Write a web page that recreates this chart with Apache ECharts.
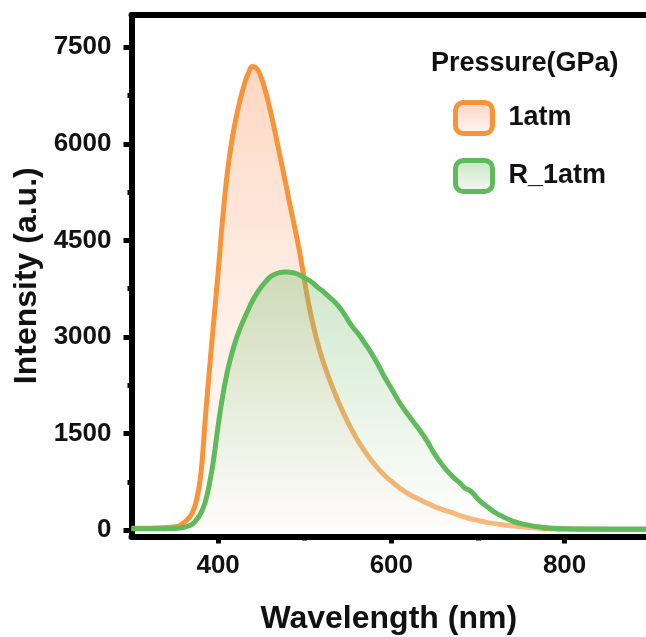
<!DOCTYPE html>
<html><head><meta charset="utf-8">
<script src="https://cdn.jsdelivr.net/npm/echarts@6/dist/echarts.min.js"></script>
<style>html,body{margin:0;padding:0;background:#fff}#c{width:646px;height:637px}</style>
</head><body><div id="c"></div>
<script>
// Wavelength (nm)
const wavelength = [300,320,340,350,355,360,365,370,375,380,385,390,395,400,405,410,415,420,425,430,435,440,445,450,455,460,465,470,475,480,485,490,495,500,505,510,515,520,525,530,535,540,545,550,555,560,565,570,575,580,585,590,595,600,610,620,630,640,650,660,670,680,685,690,695,700,710,720,730,740,750,760,770,780,800,850,894];
// Intensity, 1atm
const atm1 = [30,30,38,50,65,110,170,260,460,860,1700,2500,3250,4000,4800,5480,5980,6350,6660,6910,7100,7200,7160,7020,6800,6530,6230,5900,5580,5250,4920,4600,4250,3850,3480,3170,2900,2670,2470,2290,2120,1960,1810,1670,1540,1420,1310,1210,1115,1030,950,880,815,760,650,560,490,425,365,315,270,220,200,180,165,150,120,100,80,65,50,40,32,25,15,10,8];
// Intensity, R_1atm
const r1atm = [20,20,22,25,30,40,60,90,160,260,430,720,1120,1620,2060,2420,2700,2930,3120,3280,3430,3570,3680,3780,3860,3930,3970,3995,4005,4010,4000,3985,3955,3915,3880,3830,3770,3720,3660,3600,3540,3460,3370,3260,3160,3080,2990,2890,2790,2680,2560,2430,2310,2200,1970,1780,1600,1410,1180,990,840,720,650,620,560,480,370,270,200,140,100,72,50,35,20,15,15];
const seriesNames = ['1atm','R_1atm'];
const legendTitle = 'Pressure(GPa)';
const yTicks = [0,1500,3000,4500,6000,7500];
const yMinorTicks = [750,2250,3750,5250,6750];
const xTicks = [400,600,800];
const xMinorTicks = [500,700];

const FONT = '"Liberation Sans", Arial, sans-serif';
const ORANGE = '#f7943a';
const GREEN = '#5fba5b';
const G = echarts.graphic.LinearGradient;

const chart = echarts.init(document.getElementById('c'), null, {renderer:'canvas'});
const toPairs = vals => wavelength.map((w,i)=>[w, vals[i]]);
const Y_MIN = -100, Y_MAX = 8000, X_MIN = 300, X_MAX = 894;
const plain = v => String(v);

chart.setOption({
  animation: false,
  backgroundColor: '#fff',
  title: {
    text: legendTitle, left: 431, top: 50, padding: 0,
    textStyle: {fontFamily: FONT, fontWeight: 'bold', fontSize: 27, color: '#111'}
  },
  legend: {
    orient: 'vertical', left: 453, top: 100, padding: 0,
    itemWidth: 37, itemHeight: 31, itemGap: 22, icon: 'roundRect',
    textStyle: {fontFamily: FONT, fontWeight: 'bold', fontSize: 27, color: '#111', padding: [0,0,0,11]},
    data: [
      {name: seriesNames[0], itemStyle: {color: new G(0,0,0,1,[{offset:0,color:'#fbd3c2'},{offset:1,color:'#fff8f5'}]), borderColor: ORANGE, borderWidth: 5}},
      {name: seriesNames[1], itemStyle: {color: new G(0,0,0,1,[{offset:0,color:'#c9e4c4'},{offset:1,color:'#f6fbf5'}]), borderColor: GREEN, borderWidth: 5}}
    ]
  },
  grid: {left: 131.5, right: 0, top: 15, bottom: 100.5, outerBoundsMode: 'none', containLabel: false},
  xAxis: [
    {
      type: 'value', position: 'bottom', min: X_MIN, max: X_MAX,
      name: 'Wavelength (nm)', nameLocation: 'middle', nameGap: 67,
      nameTextStyle: {fontFamily: FONT, fontWeight: 'bold', fontSize: 32, color: '#111'},
      axisLine: {show: true, onZero: false, lineStyle: {color: '#000', width: 6}},
      axisTick: {show: true, customValues: xTicks, length: 7, lineStyle: {color: '#000', width: 5}},
      axisLabel: {customValues: xTicks, formatter: plain, margin: 16, fontFamily: FONT, fontWeight: 'bold', fontSize: 26, color: '#111'},
      splitLine: {show: false}
    },
    {
      type: 'value', position: 'bottom', min: X_MIN, max: X_MAX,
      axisLine: {show: false, onZero: false},
      axisTick: {show: true, customValues: xMinorTicks, length: 4, lineStyle: {color: '#000', width: 5}},
      axisLabel: {show: false}, splitLine: {show: false}
    },
    {
      type: 'value', position: 'top', min: X_MIN, max: X_MAX,
      axisLine: {show: true, onZero: false, lineStyle: {color: '#000', width: 6}},
      axisTick: {show: false}, axisLabel: {show: false}, splitLine: {show: false}
    }
  ],
  yAxis: [
    {
      type: 'value', position: 'left', min: Y_MIN, max: Y_MAX,
      name: 'Intensity (a.u.)', nameLocation: 'middle', nameGap: 83,
      nameTextStyle: {fontFamily: FONT, fontWeight: 'bold', fontSize: 32, color: '#111'},
      axisLine: {show: true, onZero: false, lineStyle: {color: '#000', width: 6}},
      axisTick: {show: true, customValues: yTicks, length: 8, lineStyle: {color: '#000', width: 5}},
      axisLabel: {customValues: yTicks, formatter: plain, margin: 20, fontFamily: FONT, fontWeight: 'bold', fontSize: 26, color: '#111'},
      splitLine: {show: false}
    },
    {
      type: 'value', position: 'left', min: Y_MIN, max: Y_MAX,
      axisLine: {show: false, onZero: false},
      axisTick: {show: true, customValues: yMinorTicks, length: 4, lineStyle: {color: '#000', width: 5}},
      axisLabel: {show: false}, splitLine: {show: false}
    }
  ],
  series: [
    {
      name: seriesNames[0], type: 'line', data: toPairs(atm1), xAxisIndex: 0, yAxisIndex: 0,
      showSymbol: false, symbol: 'none', smooth: 0.5,
      lineStyle: {color: ORANGE, width: 5}, itemStyle: {color: ORANGE},
      areaStyle: {origin: 'auto', color: new G(0,0,0,1,[{offset:0,color:'rgba(252,178,135,0.75)'},{offset:1,color:'rgba(253,228,218,0.25)'}])},
      z: 2
    },
    {
      name: seriesNames[1], type: 'line', data: toPairs(r1atm), xAxisIndex: 0, yAxisIndex: 0,
      showSymbol: false, symbol: 'none', smooth: 0.5,
      lineStyle: {color: GREEN, width: 5}, itemStyle: {color: GREEN},
      areaStyle: {origin: 'auto', color: new G(0,0,0,1,[{offset:0,color:'rgba(115,188,105,0.5)'},{offset:1,color:'rgba(255,255,255,0.5)'}])},
      z: 3
    }
  ]
});
</script>
</body></html>
